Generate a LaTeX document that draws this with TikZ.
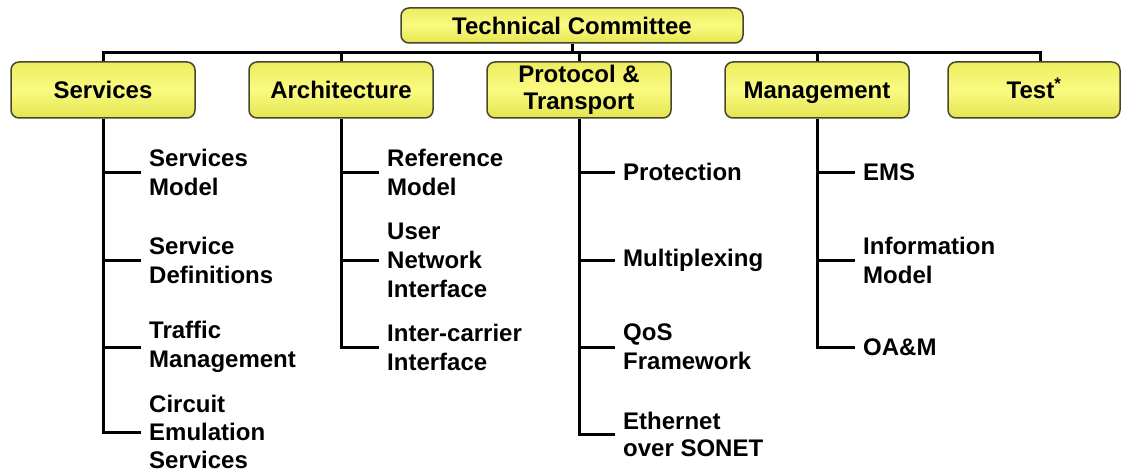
\documentclass[tikz,border=0pt]{standalone}
\usepackage{fontspec}
\setmainfont{Liberation Sans}
\definecolor{boxtop}{RGB}{236,236,96}
\definecolor{boxmid}{RGB}{250,250,130}
\definecolor{boxbot}{RGB}{228,228,80}
\definecolor{boxedge}{RGB}{70,70,45}
\tikzset{
  unitbox/.style={draw=boxedge, line width=1.5pt, rounded corners=8pt,
    top color=boxtop, bottom color=boxbot, middle color=boxmid,
    minimum width=184pt, minimum height=56pt, inner sep=0pt, align=center,
    font=\fontsize{24}{27}\selectfont\bfseries},
  oneline/.style={text height=18pt, text depth=0pt},
  leaf/.style={anchor=west, inner xsep=8pt, inner ysep=0pt, align=left,
    font=\fontsize{24}{29}\selectfont\bfseries},
  tree/.style={line width=3pt, black},
}
\begin{document}
\begin{tikzpicture}[x=1pt,y=-1pt]
\useasboundingbox (0,0) rectangle (1124,476);
% top
\node[unitbox, oneline, minimum width=342pt, minimum height=35pt] (tc) at (572,25.5) {Technical Committee};
\coordinate (bar) at (0,53);
% second row
\node[unitbox, oneline] (svc)  at (103,90) {Services};
\node[unitbox, oneline] (arch) at (341,90) {Architecture};
\node[unitbox] (prot) at (579,90) {Protocol \&\\Transport};
\node[unitbox, oneline] (mgmt) at (817,90) {Management};
\node[unitbox, oneline, minimum width=172pt] (test) at (1034,90) {Test\textsuperscript{*}};
% connectors top
\draw[tree] (tc.south) -- (tc.south |- bar);
\draw[tree] (svc.north) -- (svc.north |- bar) -- ([xshift=6pt]test.north |- bar) -- ([xshift=6pt]test.north);
\draw[tree] (arch.north) -- (arch.north |- bar);
\draw[tree] (prot.north) -- (prot.north |- bar);
\draw[tree] (mgmt.north) -- (mgmt.north |- bar);
% Services children
\node[leaf] (s1) at (141,172) {Services\\Model};
\node[leaf] (s2) at (141,260) {Service\\Definitions};
\node[leaf] (s3) at (141,347) {Traffic\\Management};
\node[leaf, font=\fontsize{24}{28}\selectfont\bfseries] (s4) at (141,432) {Circuit\\Emulation\\Services};
\draw[tree] (svc.south) |- (s4.west);
\foreach \c in {s1,s2,s3} \draw[tree] (svc.south |- \c.west) -- (\c.west);
% Architecture children
\node[leaf] (a1) at (379,172) {Reference\\Model};
\node[leaf] (a2) at (379,260) {User\\Network\\Interface};
\node[leaf] (a3) at (379,347) {Inter-carrier\\Interface};
\draw[tree] (arch.south) |- (a3.west);
\foreach \c in {a1,a2} \draw[tree] (arch.south |- \c.west) -- (\c.west);
% Protocol children
\node[leaf] (p1) at (615,172) {Protection};
\node[leaf] (p2) at (615,260) {Multiplexing};
\node[leaf] (p3) at (615,347) {QoS\\Framework};
\node[leaf, font=\fontsize{24}{27}\selectfont\bfseries] (p4) at (615,434) {Ethernet\\over SONET};
\draw[tree] (prot.south) |- (p4.west);
\foreach \c in {p1,p2,p3} \draw[tree] (prot.south |- \c.west) -- (\c.west);
% Management children
\node[leaf] (m1) at (855,172) {EMS};
\node[leaf] (m2) at (855,260) {Information\\Model};
\node[leaf] (m3) at (855,347) {OA\&M};
\draw[tree] (mgmt.south) |- (m3.west);
\foreach \c in {m1,m2} \draw[tree] (mgmt.south |- \c.west) -- (\c.west);
\end{tikzpicture}
\end{document}
